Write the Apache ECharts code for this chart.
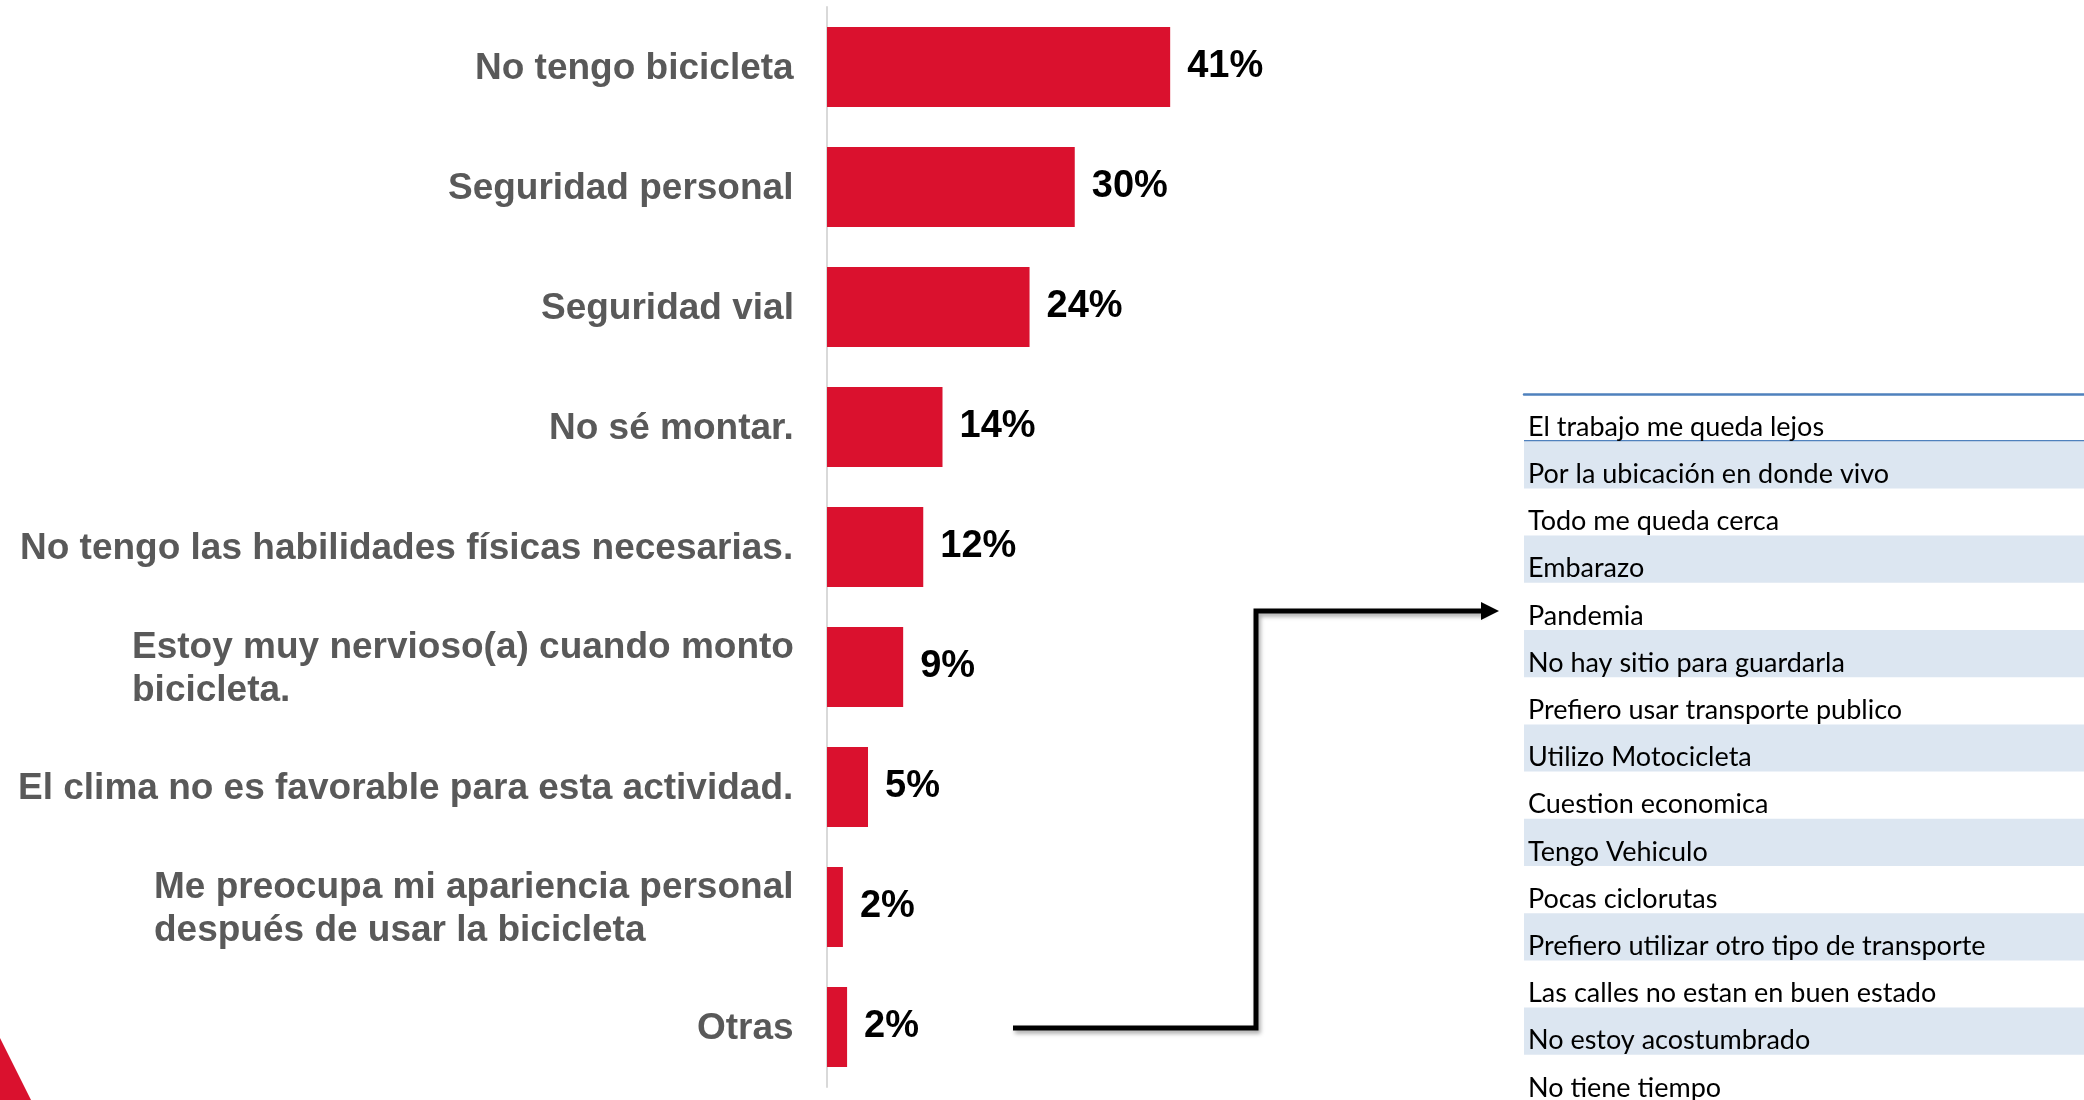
<!DOCTYPE html>
<html>
<head>
<meta charset="utf-8">
<title>Razones para no usar bicicleta</title>
<script src="https://cdn.jsdelivr.net/npm/echarts@6/dist/echarts.min.js"></script>
<style>
  html, body { margin: 0; padding: 0; background: #fff; }
  #main { width: 2084px; height: 1100px; }
</style>
</head>
<body>
<div id="main"></div>
<script>
// datos del grafico
var razones = [
  'No tengo bicicleta',
  'Seguridad personal',
  'Seguridad vial',
  'No sé montar.',
  'No tengo las habilidades físicas necesarias.',
  'Estoy muy nervioso(a) cuando monto\nbicicleta.',
  'El clima no es favorable para esta actividad.',
  'Me preocupa mi apariencia personal\ndespués de usar la bicicleta',
  'Otras'
]
// largo de barra (las etiquetas van redondeadas)
var porcentajes = [41, 29.6, 24.2, 13.8, 11.5, 9.1, 4.9, 1.9, 2.4]

// detalle de "Otras"
var otrasRazones = [
  'El trabajo me queda lejos',
  'Por la ubicación en donde vivo',
  'Todo me queda cerca',
  'Embarazo',
  'Pandemia',
  'No hay sitio para guardarla',
  'Prefiero usar transporte publico',
  'Utilizo Motocicleta',
  'Cuestion economica',
  'Tengo Vehiculo',
  'Pocas ciclorutas',
  'Prefiero utilizar otro tipo de transporte',
  'Las calles no estan en buen estado',
  'No estoy acostumbrado',
  'No tiene tiempo'
]

var rojo = '#da112e'
var labelFont = 'bold 37px "Liberation Sans"'
var tablaTop = 394
var filaAlto = 47.2

// medir texto para alinear a la izquierda las etiquetas de dos lineas
var ctx = document.createElement('canvas').getContext('2d')
function anchoTexto(t) {
  ctx.font = labelFont
  return ctx.measureText(t).width
}
var rich = {}
razones.forEach(function(r, i) {
  var w = Math.max.apply(null, r.split('\n').map(anchoTexto))
  rich['r' + i] = {
    width: Math.ceil(w) + 1,
    align: 'left',
    fontFamily: 'Liberation Sans',
    fontWeight: 'bold',
    fontSize: 37,
    lineHeight: 43,
    color: '#595959'
  }
})

var myChart = echarts.init(document.getElementById('main'))

var option = {
  animation: false,
  grid: [
    { left: 827, top: 7, width: 418.5, height: 1080, outerBoundsMode: 'none' },
    { left: 1524, right: 0, top: tablaTop, height: filaAlto * otrasRazones.length, outerBoundsMode: 'none' }
  ],
  xAxis: [
    { type: 'value', gridIndex: 0, min: 0, max: 50, show: false },
    {
      type: 'value', gridIndex: 1, position: 'top',
      axisLine: { show: true, lineStyle: { color: '#4f81bd', width: 2.5 } },
      axisTick: { show: false }, axisLabel: { show: false }, splitLine: { show: false }
    }
  ],
  yAxis: [
    {
      type: 'category', gridIndex: 0, inverse: true, data: razones,
      axisLine: { show: true, lineStyle: { color: '#d9d9d9', width: 2 } },
      axisTick: { show: false },
      axisLabel: {
        interval: 0,
        margin: 32,
        padding: [4, 0, 0, 0],
        formatter: function(v, i) {
          return v.split('\n').map(function(l) { return '{r' + i + '|' + l + '}' }).join('\n')
        },
        rich: rich
      }
    },
    {
      type: 'category', gridIndex: 1, inverse: true, data: otrasRazones,
      axisLine: { show: false }, axisTick: { show: false },
      axisLabel: {
        inside: true, interval: 0, margin: 4,
        // texto pegado abajo de cada fila, como en excel
        formatter: function(v) { return '{t|' + v + '}' },
        rich: {
          t: { fontFamily: 'Lato', fontSize: 27, color: '#000', padding: [19, 0, 0, 0] }
        }
      },
      splitLine: { show: false },
      splitArea: { show: true, areaStyle: { color: ['rgba(255,255,255,0)', '#dce6f1'] } }
    }
  ],
  series: [{
    type: 'bar',
    xAxisIndex: 0,
    yAxisIndex: 0,
    data: porcentajes,
    barWidth: 80,
    itemStyle: { color: rojo },
    label: {
      show: true,
      position: 'right',
      distance: 17,
      formatter: function(p) { return Math.round(p.value) + '%' },
      fontFamily: 'Liberation Sans',
      fontWeight: 'bold',
      fontSize: 38,
      color: '#000'
    }
  }],
  graphic: [
    // linea bajo la primera fila de la tabla
    {
      type: 'line',
      shape: { x1: 1524, y1: tablaTop + filaAlto, x2: 2084, y2: tablaTop + filaAlto },
      style: { stroke: '#4f81bd', lineWidth: 2.5 }
    },
    // flecha de "Otras" hacia la tabla
    {
      type: 'polyline',
      shape: { points: [[1013, 1028], [1256, 1028], [1256, 611], [1484, 611]] },
      style: {
        stroke: '#000', lineWidth: 5, fill: null,
        shadowBlur: 4, shadowColor: 'rgba(0,0,0,0.35)', shadowOffsetX: 2, shadowOffsetY: 3
      }
    },
    {
      type: 'polygon',
      shape: { points: [[1481, 602], [1499, 611], [1481, 620]] },
      style: { fill: '#000' }
    },
    // triangulo rojo decorativo
    {
      type: 'polygon',
      shape: { points: [[0, 1038], [31, 1100], [0, 1100]] },
      style: { fill: rojo }
    }
  ]
}
myChart.setOption(option)
</script>
</body>
</html>
